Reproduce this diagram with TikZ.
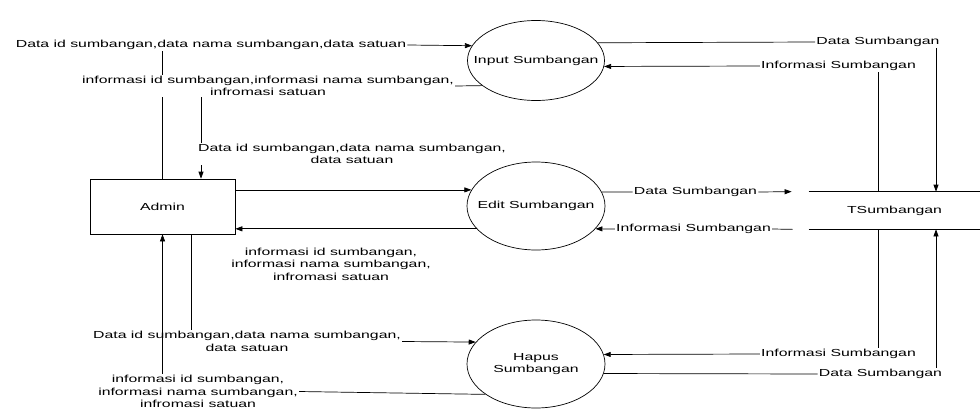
\documentclass[tikz,border=0pt]{standalone}
\usepackage{fontspec}
\setmainfont{Liberation Sans}[FakeStretch=1.55]
\usetikzlibrary{shapes.geometric,arrows.meta}

\begin{document}
\begin{tikzpicture}[x=1pt,y=-1pt,line width=0.7pt,
    >={Triangle[length=7pt,width=5pt]},
    every node/.style={font=\fontsize{10.2}{12.5}\selectfont},
    proc/.style={ellipse,draw,minimum width=138,minimum height=88,inner sep=0},
    flowlab/.style={fill=white,inner sep=1pt,align=center}]
    \useasboundingbox (0,0) rectangle (980,410);
    % entity and data store
    \node[draw,minimum width=145,minimum height=55,inner sep=0] (admin) at (162.5,206.5) {Admin};
    \node[minimum width=171,minimum height=37,inner sep=0] (store) at (894.5,210.5) {TSumbangan};
    \draw (store.north west) -- (store.north east);
    \draw (store.south west) -- (store.south east);
    \coordinate (stNa) at ([xshift=41.5pt]store.north);
    \coordinate (stNb) at ([xshift=-16.5pt]store.north);
    \coordinate (stSa) at ([xshift=41.5pt]store.south);
    \coordinate (stSb) at ([xshift=-16.5pt]store.south);
    \coordinate (admN) at ([xshift=38.5pt]admin.north);
    \coordinate (admS) at ([xshift=28.5pt]admin.south);
    % processes
    \node[proc,minimum width=137,minimum height=80] (input) at (536,60.5) {};
    \node (inputT) at (input) {Input Sumbangan};
    \node[proc] (edit) at (536,206) {};
    \node (editT) at (edit) {Edit Sumbangan};
    \node[proc] (hapus) at (536,364) {};
    \node[align=center] (hapusT) at (hapus) {Hapus\\Sumbangan};
    % admin <-> input
    \node[flowlab] (labInA) at (211,45) {Data id sumbangan,data nama sumbangan,data satuan};
    \draw (admin.north) -- (admin.north |- labInA.south);
    \draw[->] (labInA.east) -- (input.167);
    \node[flowlab] (labInB) at (268,86) {informasi id sumbangan,informasi nama sumbangan,\\infromasi satuan};
    \draw (input.205) -- (labInB.east);
    \draw[->] (labInB.south -| admN) -- (admN);
    % admin <-> edit
    \node[flowlab] (labEdA) at (352,154) {Data id sumbangan,data nama sumbangan,\\data satuan};
    \draw[->] (edit.166 -| admin.east) -- (edit.166);
    \draw[->] (edit.201) -- (edit.201 -| admin.east);
    \node[flowlab] (labEdB) at (331,264) {informasi id sumbangan,\\informasi nama sumbangan,\\infromasi satuan};
    % admin <-> hapus
    \node[flowlab,fill=none] (labHpA) at (247,341.5) {Data id sumbangan,data nama sumbangan,\\data satuan};
    \draw (admS) -- (admS |- labHpA.north);
    \draw[->] (labHpA.east) -- (hapus.160);
    \node[flowlab] (labHpB) at (198,391.5) {informasi id sumbangan,\\informasi nama sumbangan,\\infromasi satuan};
    \draw (hapus.211) -- (labHpB.east);
    \draw[->] (labHpB.north -| admin.south) -- (admin.south);
    % input <-> store
    \node[flowlab] (labStA) at (878,42) {Data Sumbangan};
    \draw (input.16) -- (labStA.west);
    \draw[->] (labStA.south -| stNa) -- (stNa);
    \node[flowlab] (labStB) at (838.5,66) {Informasi Sumbangan};
    \draw (stNb) -- (stNb |- labStB.south);
    \draw[->] (labStB.west) -- (input.355);
    % edit <-> store
    \node[flowlab] (labStC) at (695.5,192) {Data Sumbangan};
    \draw (edit.12) -- (labStC.west);
    \draw[->] (labStC.east) -- ([xshift=-17pt]store.north west);
    \node[flowlab] (labStD) at (693.5,229) {Informasi Sumbangan};
    \draw ([xshift=-16pt]store.south west) -- (labStD.east);
    \draw[->] (labStD.west) -- (edit.339);
    % hapus <-> store
    \node[flowlab] (labStE) at (838.5,354) {Informasi Sumbangan};
    \draw (stSb) -- (stSb |- labStE.north);
    \draw[->] (labStE.west) -- (hapus.8);
    \node[flowlab] (labStF) at (880.5,374) {Data Sumbangan};
    \draw (hapus.352) -- (labStF.west);
    \draw[->] (labStF.north -| stSa) -- (stSa);
\end{tikzpicture}
\end{document}
